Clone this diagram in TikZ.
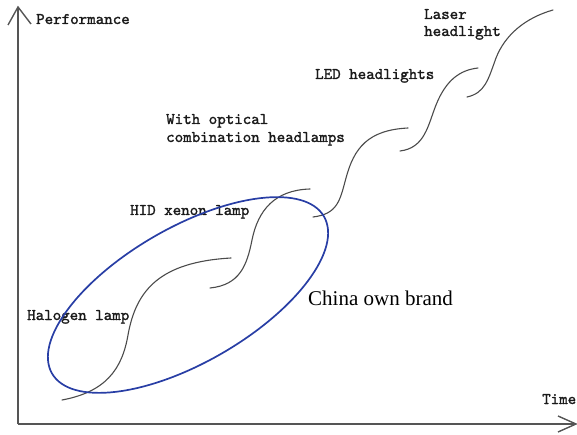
\documentclass[tikz,border=0pt]{standalone}
\usepackage{fontspec}
\setmainfont{Liberation Serif}
\newfontfamily\monolbl[FakeBold=1.6]{lmmono10-regular.otf}
\definecolor{axisgray}{RGB}{85,85,85}
\definecolor{curvegray}{RGB}{75,75,75}
\definecolor{labelgray}{RGB}{25,25,25}
\definecolor{groupblue}{RGB}{40,62,165}
\begin{document}
\begin{tikzpicture}[x=1pt,y=1pt,
  axis/.style={draw=axisgray, line width=1.4pt},
  curve/.style={draw=curvegray, line width=1.1pt, line cap=round},
  lbl/.style={anchor=base west, inner sep=0pt,
    font=\monolbl\fontsize{16.2}{18}\selectfont, text=labelgray},
  brand/.style={anchor=base west, inner sep=0pt,
    font=\fontsize{21}{24}\selectfont, text=black},
  group/.style={draw=groupblue, line width=1.7pt}]
\useasboundingbox (0,0) rectangle (577,-435);

% axes
\coordinate (origin) at (18,-424);
\coordinate (ytip) at (18,-7);
\coordinate (xtip) at (576,-424);
\draw[axis] (origin) -- (ytip);
\draw[axis] (origin) -- (xtip);
\draw[axis] ([shift={(-10,-18)}]ytip) -- (ytip) -- ([shift={(13,-17)}]ytip);
\draw[axis] ([shift={(-18,8)}]xtip) -- (xtip) -- ([shift={(-18,-8)}]xtip);

\node[lbl] (perf) at (36,-24) {Performance};
\node[lbl] (time) at (542,-404) {Time};

% technology S-curves
\draw[curve] (62,-400) .. controls (105,-392) and (122,-370) .. (128,-335)
  .. controls (136,-290) and (160,-262) .. (231,-258);
\draw[curve] (210,-288) .. controls (240,-285) and (247,-265) .. (252,-240)
  .. controls (258,-210) and (275,-190) .. (310,-189);
\draw[curve] (313,-217) .. controls (338,-214) and (340,-200) .. (346,-178)
  .. controls (354,-148) and (368,-130) .. (408,-128);
\draw[curve] (400,-151) .. controls (425,-148) and (428,-125) .. (436,-105)
  .. controls (446,-80) and (460,-70) .. (478,-68);
\draw[curve] (467,-97) .. controls (485,-93) and (488,-80) .. (496,-58)
  .. controls (505,-35) and (525,-18) .. (553,-10);

% curve labels
\node[lbl] (halogen) at (27,-320) {Halogen lamp};
\node[lbl] (hid) at (130,-215) {HID xenon lamp};
\node[lbl] (optA) at (166,-124) {With optical};
\node[lbl] (optB) at (166,-142) {combination headlamps};
\node[lbl] (led) at (315,-79) {LED headlights};
\node[lbl] (laserA) at (424,-19) {Laser};
\node[lbl] (laserB) at (424,-36) {headlight};

% domestic brand group
\coordinate (brandc) at (188,-295);
\draw[group, rotate around={30:(brandc)}] (brandc) ellipse [x radius=157pt, y radius=67.5pt];
\node[brand] (brand) at (308,-305) {China own brand};
\end{tikzpicture}
\end{document}
